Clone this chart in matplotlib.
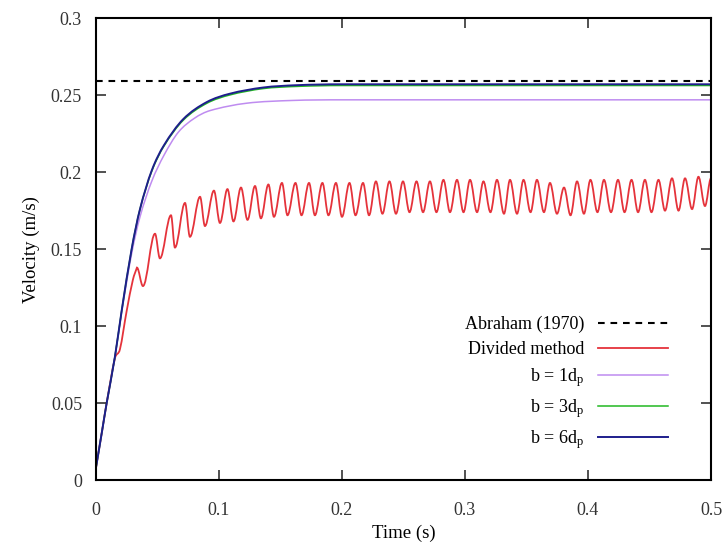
"""
Settling velocity of a particle: Abraham (1970) terminal velocity vs.
the divided method and three b / d_p cases.
"""

import matplotlib
matplotlib.use("Agg")
import matplotlib.pyplot as plt
from matplotlib.path import Path
from matplotlib.patches import PathPatch
from matplotlib.lines import Line2D

plt.rcParams['font.family'] = ['Liberation Serif', 'DejaVu Serif']
plt.rcParams['mathtext.fontset'] = 'custom'
plt.rcParams['mathtext.rm'] = 'Liberation Serif'
plt.rcParams['mathtext.it'] = 'Liberation Serif:italic'

# ---- data ----
abraham_v = 0.2595

# smooth curves (t in s, v in m/s)
t_smooth = [0, 0.005, 0.0087, 0.0154, 0.0209, 0.029, 0.0358, 0.0453, 0.0553,
            0.071, 0.090, 0.109, 0.136, 0.163, 0.2, 0.3, 0.4, 0.5]
v_b6 = [0.008, 0.032, 0.050, 0.080, 0.110, 0.150, 0.176, 0.201, 0.2175,
        0.2345, 0.2455, 0.251, 0.255, 0.2565, 0.2571, 0.2571, 0.2571, 0.2571]
v_b3 = [0.008, 0.032, 0.050, 0.080, 0.110, 0.150, 0.176, 0.2005, 0.217,
        0.2338, 0.2447, 0.2502, 0.2543, 0.2557, 0.2563, 0.2563, 0.2563, 0.2563]

t_b1 = [0, 0.005, 0.0087, 0.0154, 0.0209, 0.029, 0.0358, 0.0453, 0.0553,
        0.067, 0.08, 0.0927, 0.1225, 0.16, 0.2, 0.3, 0.4, 0.5]
v_b1 = [0.008, 0.032, 0.050, 0.080, 0.109, 0.147, 0.171, 0.194, 0.211,
        0.226, 0.235, 0.240, 0.2448, 0.2466, 0.247, 0.247, 0.247, 0.247]

# divided method: initial rise, then peaks / troughs of the oscillation
red_rise_t = [0, 0.005, 0.0087, 0.0154, 0.0195, 0.025, 0.030, 0.0333]
red_rise_v = [0.008, 0.032, 0.050, 0.079, 0.085, 0.110, 0.130, 0.138]

peak_t = [0.0333, 0.0480, 0.0610, 0.0724, 0.0846, 0.0959, 0.1069, 0.1179,
          0.1293, 0.1402, 0.1512, 0.1622, 0.1732, 0.1841, 0.1951, 0.2061,
          0.2171, 0.2276, 0.2386, 0.2496, 0.2606, 0.2715, 0.2825, 0.2935,
          0.3041, 0.3150, 0.3260, 0.3366, 0.3476, 0.3585, 0.3691, 0.3805,
          0.3911, 0.4020, 0.4130, 0.4244, 0.4354, 0.4463, 0.4573, 0.4683,
          0.4789, 0.4898, 0.5000]
peak_v = [0.138, 0.160, 0.172, 0.180, 0.184, 0.188, 0.189, 0.190, 0.191,
          0.192, 0.193, 0.193, 0.193, 0.193, 0.193, 0.193, 0.193, 0.194,
          0.194, 0.194, 0.194, 0.194, 0.195, 0.195, 0.195, 0.194, 0.195,
          0.195, 0.195, 0.195, 0.193, 0.190, 0.194, 0.195, 0.195, 0.195,
          0.195, 0.195, 0.195, 0.196, 0.196, 0.197, 0.196]

trough_t = [0.0382, 0.0520, 0.0642, 0.0764, 0.0886, 0.1008, 0.1118, 0.1232,
            0.1341, 0.1447, 0.1557, 0.1671, 0.1780, 0.1890, 0.2000, 0.2110,
            0.2220, 0.2329, 0.2439, 0.2549, 0.2659, 0.2768, 0.2878, 0.2988,
            0.3098, 0.3207, 0.3317, 0.3423, 0.3533, 0.3642, 0.3748, 0.3858,
            0.3967, 0.4077, 0.4187, 0.4297, 0.4407, 0.4516, 0.4626, 0.4736,
            0.4846, 0.4951]
trough_v = [0.126, 0.144, 0.151, 0.158, 0.165, 0.167, 0.168, 0.169, 0.170,
            0.171, 0.172, 0.172, 0.172, 0.172, 0.171, 0.172, 0.172, 0.173,
            0.173, 0.174, 0.174, 0.174, 0.174, 0.174, 0.174, 0.174, 0.173,
            0.173, 0.174, 0.174, 0.173, 0.172, 0.173, 0.174, 0.174, 0.174,
            0.174, 0.174, 0.175, 0.175, 0.176, 0.178]

x_ticks = [0, 0.1, 0.2, 0.3, 0.4, 0.5]
y_ticks = [0, 0.05, 0.1, 0.15, 0.2, 0.25, 0.3]

c_red = '#e5333b'
c_b1 = '#bf8cf0'
c_b3 = '#22b822'
c_b6 = '#1e1e8c'


def smooth_segments(t, v):
    """Cubic through the points (centred slopes, flat where data turns)."""
    n = len(t)
    d = [(v[i + 1] - v[i]) / (t[i + 1] - t[i]) for i in range(n - 1)]
    m = [d[0]] + [0.0] * (n - 2) + [d[-1]]
    for i in range(1, n - 1):
        if d[i - 1] * d[i] > 0:
            c = (v[i + 1] - v[i - 1]) / (t[i + 1] - t[i - 1])
            lim = 3 * min(abs(d[i - 1]), abs(d[i]))
            m[i] = max(-lim, min(lim, c))
    verts, codes = [], []
    for i in range(n - 1):
        h = t[i + 1] - t[i]
        verts += [(t[i] + h / 3, v[i] + m[i] * h / 3),
                  (t[i + 1] - h / 3, v[i + 1] - m[i + 1] * h / 3),
                  (t[i + 1], v[i + 1])]
        codes += [Path.CURVE4] * 3
    return verts, codes


def smooth_path(t, v):
    verts, codes = smooth_segments(t, v)
    return Path([(t[0], v[0])] + verts, [Path.MOVETO] + codes)


def divided_path(rt, rv, pt, pv, tt, tv, k=0.36):
    """Rise, then extrema joined by cubic parts flat at each extremum."""
    verts, codes = smooth_segments(rt, rv)
    verts = [(rt[0], rv[0])] + verts
    codes = [Path.MOVETO] + codes
    ext = sorted(list(zip(pt, pv)) + list(zip(tt, tv)))
    for (t0, v0), (t1, v1) in zip(ext[:-1], ext[1:]):
        dt = t1 - t0
        verts += [(t0 + k * dt, v0), (t1 - k * dt, v1), (t1, v1)]
        codes += [Path.CURVE4] * 3
    return Path(verts, codes)


fig = plt.figure(figsize=(7.27, 5.53), dpi=100)
ax = fig.add_axes([0.132, 0.132, 0.846, 0.835])

ax.axhline(abraham_v, color='black', lw=1.5, dashes=(3.2, 2.8))
ax.add_patch(PathPatch(divided_path(red_rise_t, red_rise_v, peak_t, peak_v,
                                    trough_t, trough_v),
                       fill=False, edgecolor=c_red, lw=1.3))
ax.add_patch(PathPatch(smooth_path(t_b1, v_b1), fill=False,
                       edgecolor=c_b1, lw=1.1))
ax.add_patch(PathPatch(smooth_path(t_smooth, v_b3), fill=False,
                       edgecolor=c_b3, lw=1.1))
ax.add_patch(PathPatch(smooth_path(t_smooth, v_b6), fill=False,
                       edgecolor=c_b6, lw=1.4))

handles = [Line2D([], [], color='black', lw=1.5, dashes=(3.2, 2.8)),
           Line2D([], [], color=c_red, lw=1.3),
           Line2D([], [], color=c_b1, lw=1.1),
           Line2D([], [], color=c_b3, lw=1.1),
           Line2D([], [], color=c_b6, lw=1.4)]
labels = ['Abraham (1970)', 'Divided method', 'b = 1d$_{\\mathrm{p}}$',
          'b = 3d$_{\\mathrm{p}}$', 'b = 6d$_{\\mathrm{p}}$']

ax.set_xlim(0, 0.5)
ax.set_ylim(0, 0.3)
ax.set_xticks(x_ticks)
ax.set_xticklabels(['0', '0.1', '0.2', '0.3', '0.4', '0.5'])
ax.set_yticks(y_ticks)
ax.set_yticklabels(['0', '0.05', '0.1', '0.15', '0.2', '0.25', '0.3'])
ax.tick_params(direction='in', length=7, width=1.2, top=True, right=True,
               labelsize=13, colors='#333333', labelcolor='#333333')
ax.tick_params(axis='x', pad=16)
ax.tick_params(axis='y', pad=10)
for s in ax.spines.values():
    s.set_linewidth(1.5)

ax.set_xlabel('Time (s)', fontsize=13.5, labelpad=4)
ax.set_ylabel('Velocity (m/s)', fontsize=13.5, labelpad=8)

ax.legend(handles, labels, loc='lower right', bbox_to_anchor=(0.93, 0.062),
          frameon=False, markerfirst=False, fontsize=13, handlelength=3.9,
          handletextpad=0.75, labelspacing=0.45, borderaxespad=0, borderpad=0)

fig.savefig('out.png', dpi=100)
